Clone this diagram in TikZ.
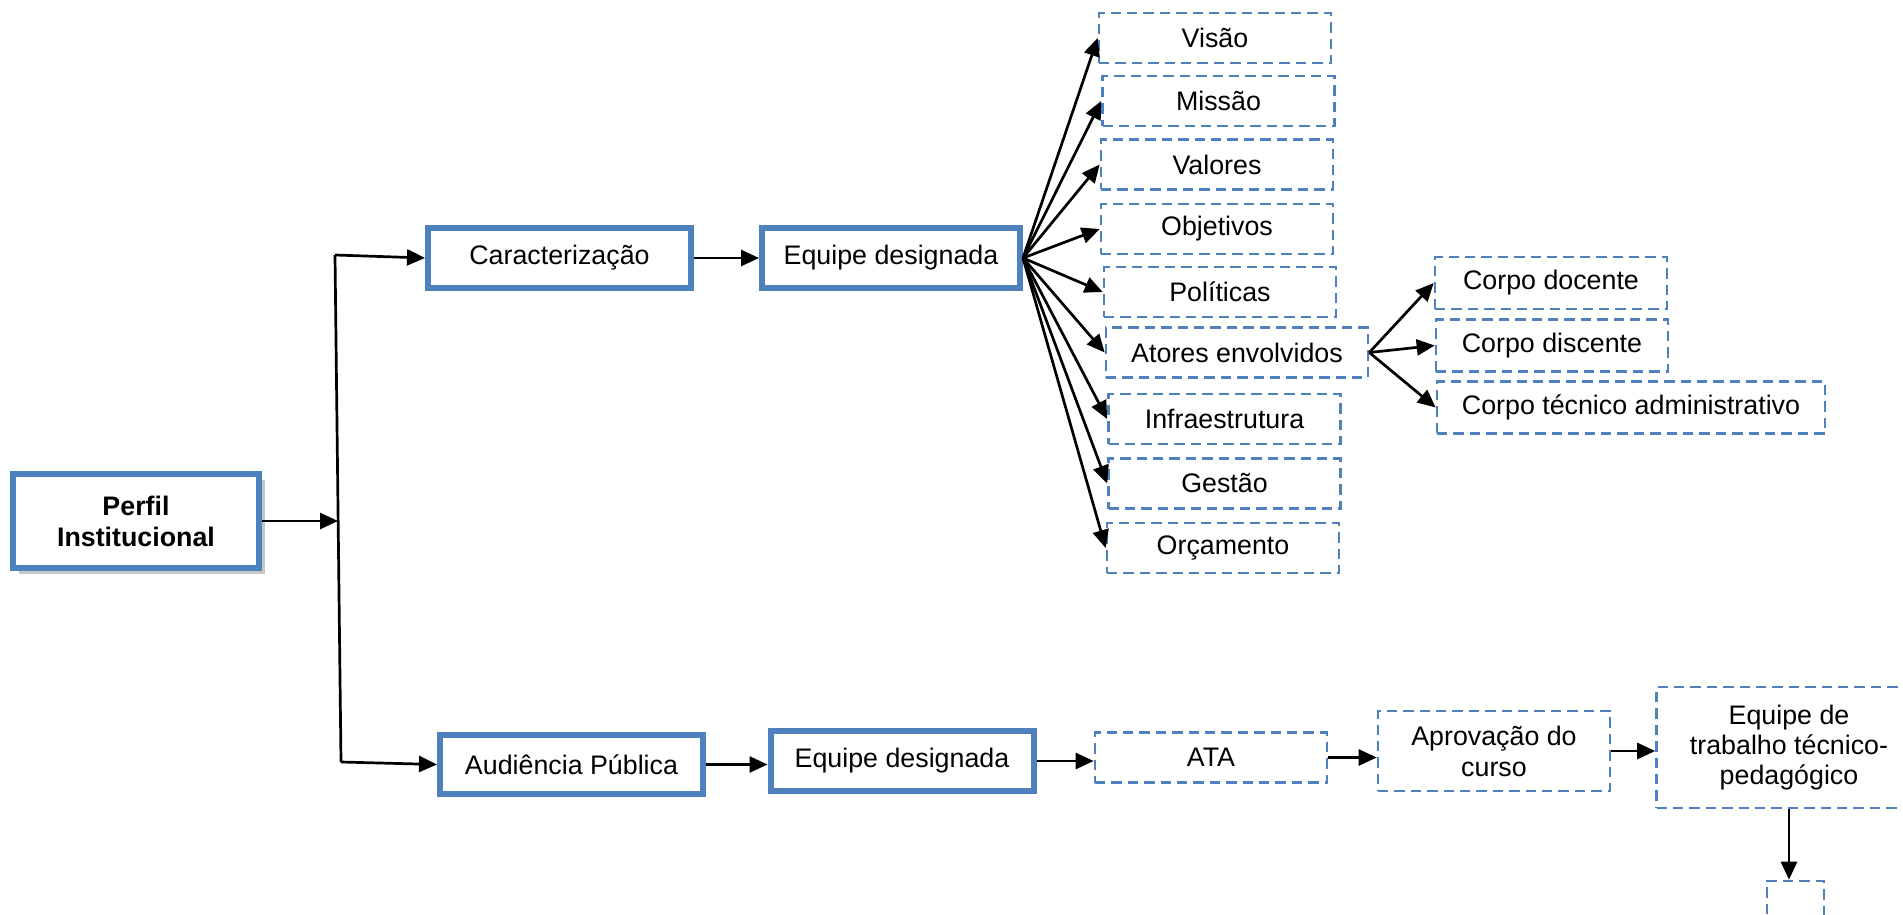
\documentclass[tikz,border=0pt]{standalone}
\usepackage{fontspec}
\setmainfont{Liberation Sans}
\usetikzlibrary{arrows.meta}
\definecolor{frameblue}{HTML}{4F81BD}
\begin{document}
\begin{tikzpicture}[x=0.5pt,y=-0.5pt,
  every node/.style={font=\fontsize{13.4pt}{15.5pt}\selectfont, inner sep=0pt, align=center},
  mainbox/.style={draw=frameblue, line width=3pt, fill=white, minimum height=29.5pt, minimum width=131.5pt},
  subbox/.style={draw=frameblue, line width=1.3pt, dash pattern=on 5.2pt off 3pt,
                 fill=white, minimum width=116pt, minimum height=25pt},
  arr/.style={line width=1.35pt, -{Triangle[length=9pt,width=8pt]}},
  link/.style={line width=1.35pt},
]
\useasboundingbox (0,0) rectangle (1903,915);
\clip (0,0) rectangle (1903,915);

% root block with its drop shadow
\node[minimum width=123pt, minimum height=47pt, fill=black!22] (perfilshadow) at (142,527) {};
\node[mainbox, minimum width=123pt, minimum height=47pt, font=\bfseries\fontsize{13.4pt}{15.5pt}\selectfont]
  (perfil) at (136,521) {Perfil\\Institucional};

% trunk that splits into the two branches
\coordinate (jn) at (338,521);
\coordinate (trtop) at (335,255);
\coordinate (trbot) at (341,762);

% upper branch
\node[mainbox] (carac) at (559.5,258) {Caracterização};
\node[mainbox, minimum width=129pt] (eqa) at (891,258) {Equipe designada};

\node[subbox] (visao)  at (1215,38)    {Visão};
\node[subbox] (missao) at (1218.5,101) {Missão};
\node[subbox] (valores) at (1217,164.5) {Valores};
\node[subbox] (objet)  at (1217,229)   {Objetivos};
\node[subbox] (polit)  at (1220,292)   {Políticas};
\node[subbox, minimum width=131pt] (atores) at (1237,352.5) {Atores envolvidos};
\node[subbox] (infra)  at (1224.5,419) {Infraestrutura};
\node[subbox] (gestao) at (1224.5,483.5) {Gestão};
\node[subbox] (orcam)  at (1223,548)   {Orçamento};

\node[subbox, minimum height=26pt] (cdoc) at (1551,283)   {Corpo docente};
\node[subbox, minimum height=26pt] (cdis) at (1552,345.5) {Corpo discente};
\node[subbox, minimum height=26pt, minimum width=194pt] (ctec) at (1631,407.5) {Corpo técnico administrativo};

% lower branch
\node[mainbox] (aud) at (571.5,764.5) {Audiência Pública};
\node[mainbox, minimum height=30pt] (eqb) at (902,761) {Equipe designada};
\node[subbox] (ata) at (1211,757.5) {ATA};
\node[subbox, minimum height=40pt] (aprov) at (1494,751) {Aprovação do\\curso};
\node[subbox, minimum width=132.5pt, minimum height=60.5pt, font=\fontsize{13.4pt}{15pt}\selectfont]
  (eqt) at (1789,747.5) {Equipe de\\trabalho técnico-\\pedagógico};
\node[subbox, minimum width=28.5pt, minimum height=30pt] (next) at (1795.5,911) {};

% connectors
\draw[arr] (perfil.east) -- (jn);
\draw[link] (trtop) -- (trbot);
\draw[arr] (trtop) -- (carac.west);
\draw[arr] (trbot) -- (aud.west);

\draw[arr] (carac.east) -- (eqa.west);
\foreach \t in {visao,missao,valores,objet,polit,atores,infra,gestao,orcam}
  \draw[arr] (eqa.east) -- (\t.west);
\foreach \t in {cdoc,cdis,ctec}
  \draw[arr] (atores.east) -- (\t.west);

\draw[arr] (aud.east) -- (aud.east -| eqb.west);
\draw[arr] (eqb.east) -- (eqb.east -| ata.west);
\draw[arr] (ata.east) -- (ata.east -| aprov.west);
\draw[arr] (aprov.east) -- (aprov.east -| eqt.west);
\draw[arr] (eqt.south) -- (eqt.south |- next.north);
\end{tikzpicture}
\end{document}
